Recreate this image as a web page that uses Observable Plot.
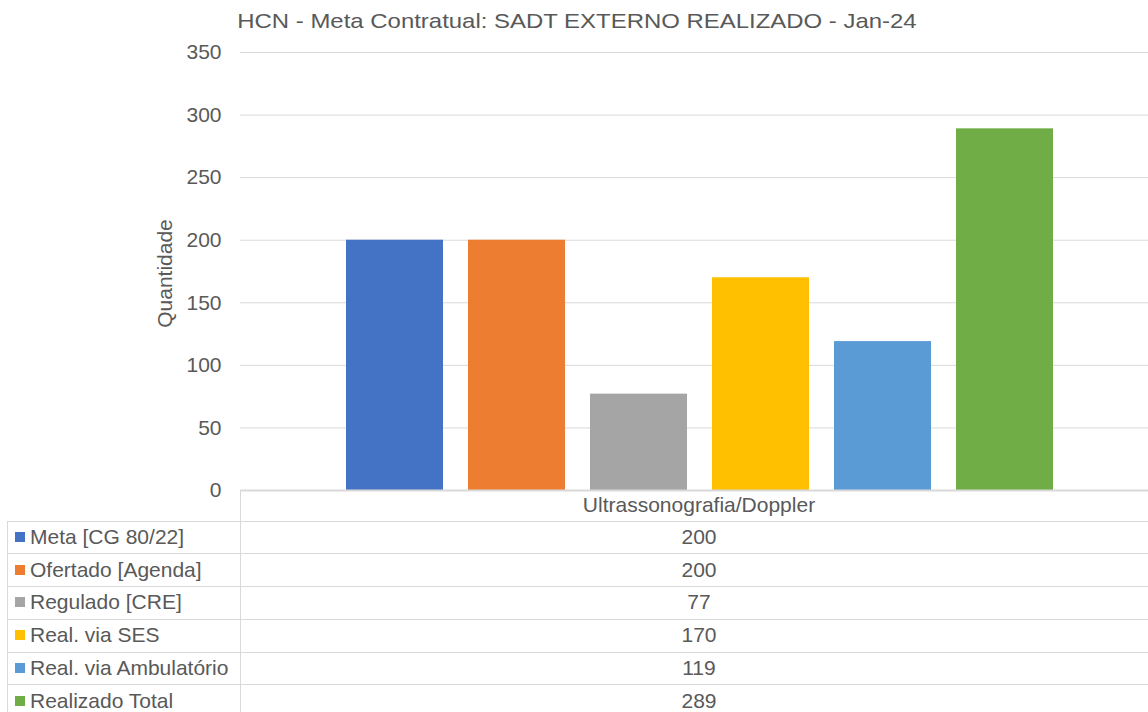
<!DOCTYPE html>
<html>
<head>
<meta charset="utf-8">
<script src="https://cdn.jsdelivr.net/npm/d3@7"></script>
<script src="https://cdn.jsdelivr.net/npm/@observablehq/plot@0.6"></script>
<style>
  html, body { margin: 0; padding: 0; background: #fff; }
  #chart { position: relative; width: 1148px; height: 712px; overflow: hidden; font-family: "Liberation Sans", Arial, sans-serif; color: #595959; }
  #title { position: absolute; top: 10px; left: 3px; width: 1148px; text-align: center; font-size: 21px; line-height: 21px; white-space: nowrap; }
  #title span { display: inline-block; transform: scaleX(1.14); transform-origin: 50% 50%; }
  #plot { position: absolute; top: 0; left: 0; }
  .cell { position: absolute; box-sizing: border-box; font-size: 21px; display: flex; align-items: center; white-space: nowrap; }
  .hline { position: absolute; height: 1px; background: #d9d9d9; }
  .vline { position: absolute; width: 1px; background: #d9d9d9; }
  .sw { display: inline-block; width: 10px; height: 10px; margin-right: 5px; }
</style>
</head>
<body>
<div id="chart">
  <div id="title"><span></span></div>
  <div id="plot"></div>
  <div id="table"></div>
</div>
<script>
const titleText = "HCN - Meta Contratual: SADT EXTERNO REALIZADO - Jan-24";
const category = "Ultrassonografia/Doppler";
const series = ["Meta [CG 80/22]", "Ofertado [Agenda]", "Regulado [CRE]", "Real. via SES", "Real. via Ambulatório", "Realizado Total"];
const values = [200, 200, 77, 170, 119, 289];
const colors = ["#4472C4", "#ED7D31", "#A5A5A5", "#FFC000", "#5B9BD5", "#70AD47"];
const yTicks = [0, 50, 100, 150, 200, 250, 300, 350];
const yLabel = "Quantidade";

document.querySelector("#title span").textContent = titleText;

const data = series.map((s, i) => ({series: s, value: values[i]}));

const plot = Plot.plot({
  width: 1148,
  height: 500,
  marginTop: 52,
  marginBottom: 10,
  marginLeft: 240,
  marginRight: 0,
  style: {fontFamily: "'Liberation Sans', Arial, sans-serif", fontSize: "21px", color: "#595959", background: "transparent"},
  x: {domain: series, range: [345, 1054], paddingInner: 0.207, paddingOuter: 0, axis: null},
  y: {domain: [0, 350], ticks: yTicks, tickSize: 0, tickPadding: 19, label: null, grid: false},
  color: {domain: series, range: colors},
  marks: [
    Plot.ruleY(yTicks.filter(t => t > 0), {stroke: "#d9d9d9", strokeWidth: 1}),
    Plot.barY(data, {x: "series", y: "value", fill: "series"}),
    Plot.ruleY([0], {stroke: "#d9d9d9", strokeWidth: 2}),
    Plot.text([yLabel], {frameAnchor: "left", textAnchor: "middle", dx: -75, dy: 2, rotate: -90, fontSize: 21, fill: "#595959"})
  ]
});
document.getElementById("plot").appendChild(plot);

// data table beneath the plot
const table = document.getElementById("table");
const left = 7, mid = 240, right = 1148, textRight = 1158;
const top0 = 490, headerH = 30.7, rowH = 32.7;
function add(cls, style, html) {
  const d = document.createElement("div");
  d.className = cls;
  Object.assign(d.style, style);
  if (html !== undefined) d.innerHTML = html;
  table.appendChild(d);
  return d;
}
// header
add("cell", {left: mid + "px", top: top0 + "px", width: (textRight - mid) + "px", height: headerH + "px", justifyContent: "center"}, category);
const rowTops = series.map((s, i) => top0 + headerH + i * rowH);
series.forEach((s, i) => {
  const t = rowTops[i];
  const c = add("cell", {left: (left + 8) + "px", top: t + "px", width: (mid - left - 8) + "px", height: rowH + "px"});
  const sw = document.createElement("span");
  sw.className = "sw";
  sw.style.background = colors[i];
  c.appendChild(sw);
  c.appendChild(document.createTextNode(s));
  add("cell", {left: mid + "px", top: t + "px", width: (textRight - mid) + "px", height: rowH + "px", justifyContent: "center"}, String(values[i]));
});
// grid lines of the table
rowTops.forEach((t) => add("hline", {left: left + "px", top: Math.round(t) + "px", width: (right - left) + "px"}));
add("hline", {left: left + "px", top: Math.round(top0 + headerH + series.length * rowH) + "px", width: (right - left) + "px"});
add("vline", {left: left + "px", top: Math.round(rowTops[0]) + "px", height: (712 - rowTops[0]) + "px"});
add("vline", {left: mid + "px", top: top0 + "px", height: (712 - top0) + "px"});
</script>
</body>
</html>
